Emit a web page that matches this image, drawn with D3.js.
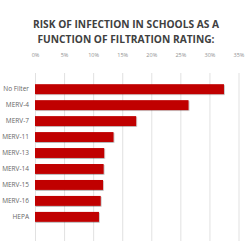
<!DOCTYPE html>
<html>
<head>
<meta charset="utf-8">
<script src="https://cdn.jsdelivr.net/npm/d3@7"></script>
<style>
  body { margin: 0; background: #fff; }
  svg { display: block; }
</style>
</head>
<body>
<svg id="chart"></svg>
<script>
// data
const categories = ['No Filter', 'MERV-4', 'MERV-7', 'MERV-11', 'MERV-13', 'MERV-14', 'MERV-15', 'MERV-16', 'HEPA'];
const risk = [32.5, 26.4, 17.4, 13.5, 11.9, 11.8, 11.7, 11.3, 11.0];
const tickValues = [0, 5, 10, 15, 20, 25, 30, 35];
const titleLines = ['RISK OF INFECTION IN SCHOOLS AS A', 'FUNCTION OF FILTRATION RATING:'];

const width = 250, height = 241;
const svg = d3.select('#chart').attr('width', width).attr('height', height);

const xscale = d3.scaleLinear().domain([0, 35]).range([35, 238.5]);
const yscale = d3.scaleBand().domain(categories).range([81, 225]).paddingInner(0.38).paddingOuter(0.2);

// shadow under bars
const defs = svg.append('defs');
const f = defs.append('filter').attr('id', 'shadow').attr('x', '-5%').attr('y', '-20%').attr('width', '110%').attr('height', '160%');
f.append('feDropShadow').attr('dx', 0.6).attr('dy', 0.8).attr('stdDeviation', 0.5).attr('flood-color', '#000').attr('flood-opacity', 0.35);

// title
svg.append('g').selectAll('text')
  .data(titleLines)
  .enter().append('text')
  .attr('x', 126)
  .attr('y', (d, i) => 28 + i * 15)
  .attr('text-anchor', 'middle')
  .attr('font-family', 'Open Sans, sans-serif')
  .attr('font-weight', 'bold')
  .attr('font-size', 10.2)
  .attr('fill', '#404040')
  .text(d => d);

// top axis with grid lines
const xaxis = d3.axisTop(xscale)
  .tickValues(tickValues)
  .tickFormat(d => d + '%')
  .tickSize(-(241 - 73))
  .tickPadding(0);

const xg = svg.append('g')
  .attr('transform', 'translate(0,73)')
  .call(xaxis);
xg.select('.domain').remove();
xg.selectAll('line').attr('stroke', '#d9d9d9').attr('stroke-width', 0.8);
xg.selectAll('text')
  .attr('y', -16)
  .attr('fill', '#909090')
  .attr('font-family', 'Open Sans, sans-serif')
  .attr('font-size', 5.5);

// category labels
const yaxis = d3.axisLeft(yscale).tickSize(0).tickPadding(6);
const yg = svg.append('g')
  .attr('transform', 'translate(35,0)')
  .call(yaxis);
yg.select('.domain').remove();
yg.selectAll('text')
  .attr('fill', '#666666')
  .attr('font-family', 'Open Sans, sans-serif')
  .attr('font-size', 6.5);

// bars
svg.append('g').selectAll('rect')
  .data(risk)
  .enter().append('rect')
  .attr('x', xscale(0))
  .attr('y', (d, i) => yscale(categories[i]))
  .attr('width', d => xscale(d) - xscale(0))
  .attr('height', yscale.bandwidth())
  .attr('fill', '#c00000')
  .attr('filter', 'url(#shadow)');
</script>
</body>
</html>
